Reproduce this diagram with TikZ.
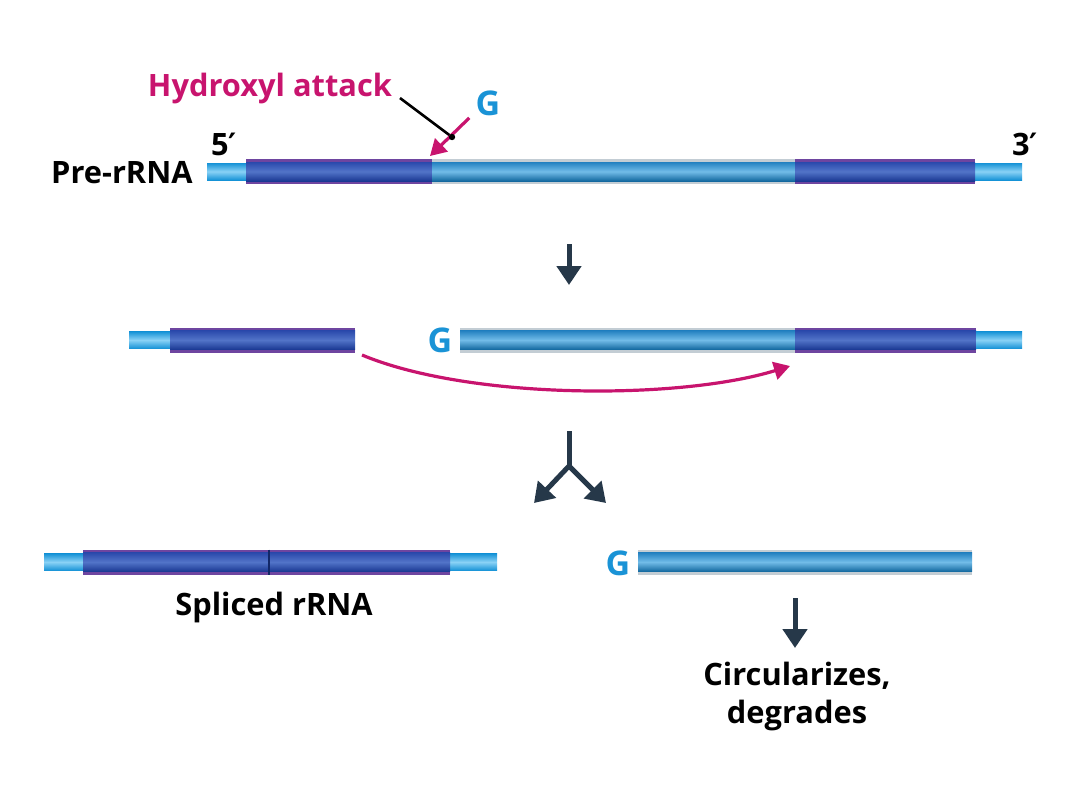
\documentclass[tikz,border=0pt]{standalone}
\usepackage{fontspec}
\setmainfont{Open Sans}
\newfontfamily\djv{DejaVu Sans Bold}
\usetikzlibrary{arrows.meta}
\definecolor{thinA}{HTML}{1592D6}
\definecolor{thinB}{HTML}{8AD2F6}
\definecolor{exonP}{HTML}{6E45A0}
\definecolor{exonA}{HTML}{2A49AC}
\definecolor{exonB}{HTML}{5274C8}
\definecolor{exonC}{HTML}{1A3893}
\definecolor{intG}{HTML}{C3CDD4}
\definecolor{intA}{HTML}{2280C0}
\definecolor{intB}{HTML}{72BCE8}
\definecolor{intC}{HTML}{12689F}
\definecolor{magen}{HTML}{C8146E}
\definecolor{gblue}{HTML}{1A93D6}
\definecolor{slate}{HTML}{263849}
\newcommand\thinbar[3]{\shade[top color=thinA,bottom color=thinA,middle color=thinB] (#1,#3-8.5) rectangle (#2,#3+8.5);}
\newcommand\exonbar[3]{\fill[exonP] (#1,#3-12.5) rectangle (#2,#3+12.5);
  \shade[top color=exonA,bottom color=exonC,middle color=exonB] (#1,#3-9.5) rectangle (#2,#3+9.5);}
\newcommand\intronbar[3]{\fill[intG] (#1,#3-12.5) rectangle (#2,#3+12.5);
  \shade[top color=intA,bottom color=intC,middle color=intB] (#1,#3-9.5) rectangle (#2,#3+9.5);}
\tikzset{
  lbl/.style={font=\bfseries\fontsize{15.4}{18}\selectfont, text=black, inner sep=0pt},
  glbl/.style={font=\bfseries\fontsize{17}{20}\selectfont, text=gblue, inner sep=0pt},
  flow/.style={draw=slate, line width=2.5pt, -{Triangle[length=9.5pt,width=12pt]}},
  splice/.style={draw=magen, line width=1.6pt, -{Triangle[length=8pt,width=9pt]}},
}
\begin{document}
\begin{tikzpicture}[x=0.5pt,y=-0.5pt]
\useasboundingbox (0,0) rectangle (1080,810);
% Row 1
\thinbar{207}{1022}{171.5}
\exonbar{246}{432}{171.5}
\intronbar{432}{795}{171.5}
\exonbar{795}{975}{171.5}
\node[lbl, anchor=east] (pre) at (193,173) {Pre-rRNA};
\node[lbl] (five) at (224,144) {5{\djv ′}};
\node[lbl] (three) at (1025,144) {3{\djv ′}};
\node[lbl, text=magen] (hyd) at (270,88) {Hydroxyl attack};
\node[glbl] (g1) at (488,103) {G};
\coordinate (site) at (430,156);
\coordinate (dot) at (452,137);
\coordinate (lineend) at (400,98);
\draw[black, line width=1.3pt] (lineend) -- (dot);
\draw[splice] (g1.south west) ++(-6,2) -- (site);
\fill[black] (dot) circle (3.2);
% arrow 1
\coordinate (a1s) at (569,244);
\coordinate (a1e) at (569,285);
\draw[flow] (a1s) -- (a1e);
% Row 2
\thinbar{129}{170}{340}
\exonbar{170}{355}{340}
\node[glbl] (g2) at (440,340) {G};
\intronbar{460}{795}{340}
\exonbar{795}{976}{340}
\thinbar{976}{1022}{340}
\coordinate (c1) at (362,355);
\coordinate (c2) at (790,366);
\draw[splice] (c1) .. controls (470,400) and (680,400) .. (c2);
% split arrow
\coordinate (s0) at (569,431);
\coordinate (s1) at (569,466);
\coordinate (sl) at (534,503);
\coordinate (sr) at (606,503);
\draw[slate, line width=2.5pt] (s0) -- (s1);
\draw[flow] (s1) -- (sl);
\draw[flow] (s1) -- (sr);
% Row 3
\thinbar{44}{497}{562}
\exonbar{83}{450}{562}
\draw[exonC!70!black, line width=1.2pt] (269,549.5) -- (269,574.5);
\node[lbl] (spl) at (274,607) {Spliced rRNA};
\node[glbl] (g3) at (618,563) {G};
\intronbar{638}{972}{562}
\coordinate (a3s) at (795,598);
\coordinate (a3e) at (795,648);
\draw[flow] (a3s) -- (a3e);
\node[lbl, align=center] (circ) at (797,696) {Circularizes,\\[1pt]degrades};
\end{tikzpicture}
\end{document}
